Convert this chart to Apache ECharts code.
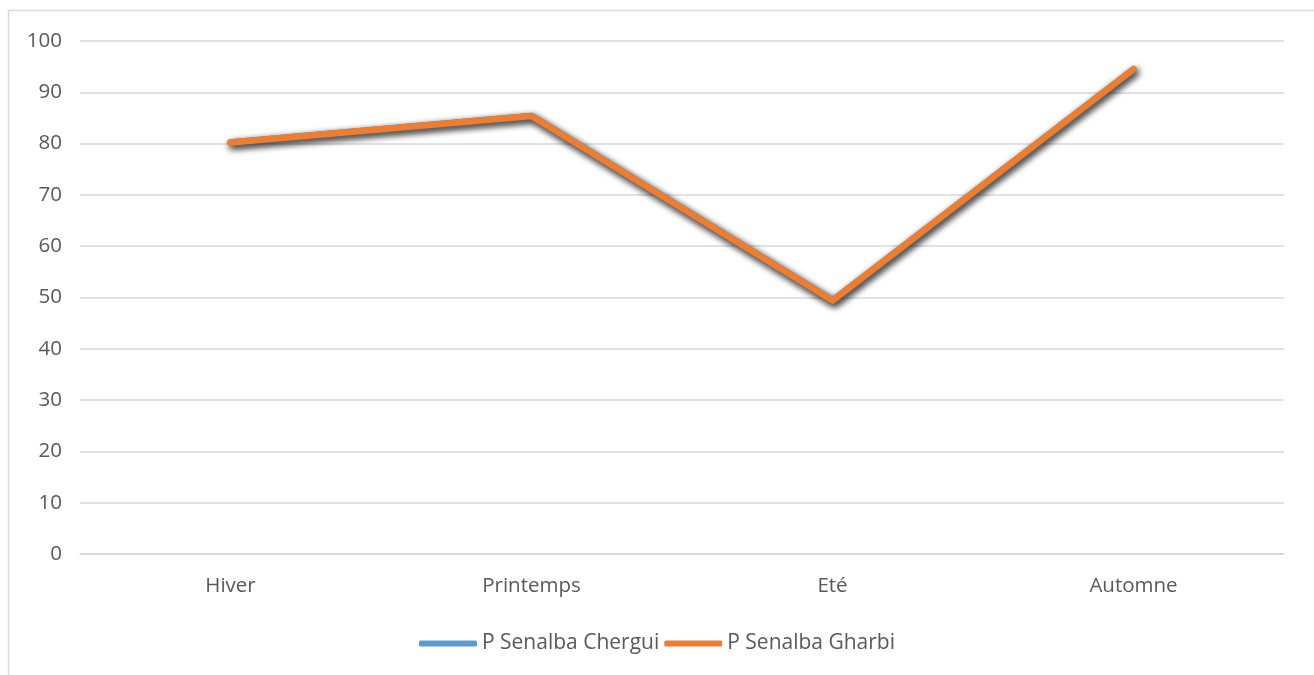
<!DOCTYPE html>
<html>
<head>
<meta charset="utf-8">
<script src="https://cdn.jsdelivr.net/npm/echarts@6/dist/echarts.min.js"></script>
<style>
html,body{margin:0;padding:0;background:#fff;}
#chart{width:1314px;height:675px;}
</style>
</head>
<body>
<div id="chart"></div>
<script>
const categories = ['Hiver', 'Printemps', 'Eté', 'Automne'];
const seriesNames = ['P Senalba Chergui', 'P Senalba Gharbi'];
const chergui = [80.2, 85.4, 49.4, 94.5];
const gharbi = [80.2, 85.4, 49.4, 94.5];
const colors = ['#5B9BD5', '#ED7D31'];

const FS = 20.5;
const chart = echarts.init(document.getElementById('chart'));
const lineSeries = (name, data, color) => ({
  name: name,
  type: 'line',
  data: data,
  symbol: 'none',
  smooth: false,
  lineStyle: {
    width: 6.5,
    color: color,
    cap: 'round',
    join: 'round',
    shadowColor: 'rgba(0,0,0,0.6)',
    shadowBlur: 7,
    shadowOffsetX: 2,
    shadowOffsetY: 3
  },
  itemStyle: { color: color },
  emphasis: { disabled: true }
});

chart.setOption({
  animation: false,
  textStyle: { fontFamily: 'Open Sans', color: '#595959' },
  graphic: [{
    type: 'rect',
    shape: { x: 8.5, y: 10.5, width: 1320, height: 700 },
    style: { fill: 'none', stroke: '#d9d9d9', lineWidth: 1.5 },
    silent: true
  }],
  grid: { left: 80, right: 30, top: 41, bottom: 121, containLabel: false },
  legend: {
    top: 628,
    left: 'center',
    icon: 'roundRect',
    itemWidth: 58,
    itemHeight: 6,
    itemGap: 5,
    textStyle: { fontSize: 21, color: '#595959', fontFamily: 'Open Sans' },
    data: seriesNames
  },
  xAxis: {
    type: 'category',
    data: categories,
    boundaryGap: true,
    axisLine: { show: true, lineStyle: { color: '#d9d9d9', width: 1.5 } },
    axisTick: { show: false },
    axisLabel: { fontSize: FS, color: '#595959', margin: 22, fontFamily: 'Open Sans' }
  },
  yAxis: {
    type: 'value',
    min: 0,
    max: 100,
    interval: 10,
    axisLine: { show: false },
    axisTick: { show: false },
    splitLine: { lineStyle: { color: '#d9d9d9', width: 1.5 } },
    axisLabel: { fontSize: FS, color: '#595959', margin: 18, fontFamily: 'Open Sans' }
  },
  series: [
    lineSeries(seriesNames[0], chergui, colors[0]),
    lineSeries(seriesNames[1], gharbi, colors[1])
  ]
});
</script>
</body>
</html>
